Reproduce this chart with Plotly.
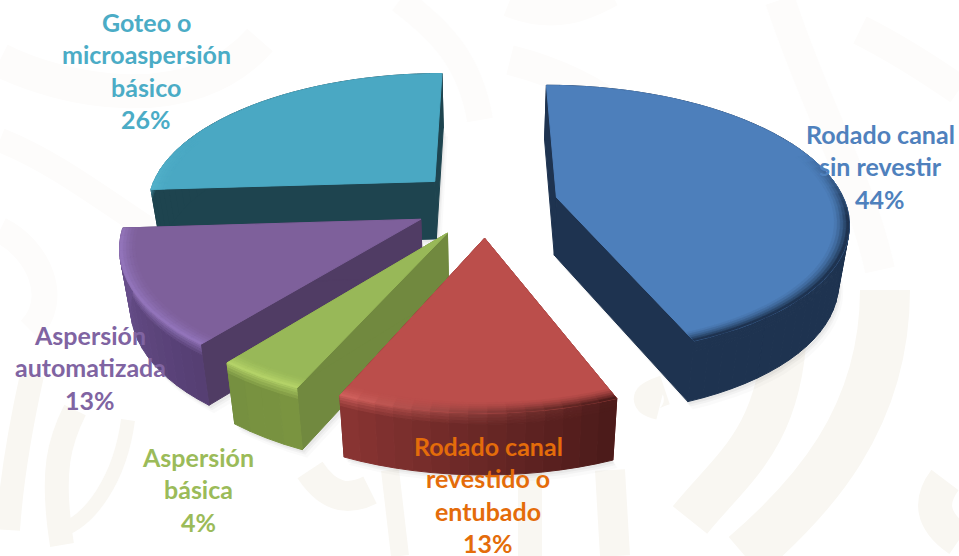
import math
import plotly.graph_objects as go

# ---- data -------------------------------------------------------------
categories = ["Rodado canal sin revestir", "Rodado canal revestido o entubado",
              "Aspersión básica", "Aspersión automatizada", "Goteo o microaspersión básico"]
values = [44.0, 12.6, 4.0, 13.4, 26.0]
label_lines = [["Rodado canal", "sin revestir"], ["Rodado canal", "revestido o", "entubado"],
               ["Aspersión", "básica"], ["Aspersión", "automatizada"],
               ["Goteo o", "microaspersión", "básico"]]

# ---- style ------------------------------------------------------------
top_colors = ["#4d7fbb", "#bb4e4b", "#98b858", "#7e609b", "#4aa8c3"]
cut_colors = ["#1e3350", "#7a2f2d", "#71893f", "#503c64", "#1e444f"]
rim_start = ["#1e3350", "#4a1a19", "#7a9440", "#553e72", "#1e444f"]
rim_end = ["#1e3350", "#8a3533", "#769040", "#6b5290", "#1e444f"]
edge_start = ["#1e3350", "#4a1a19", "#b4d268", "#9274ba", "#55b2cb"]
edge_end = ["#1e3350", "#d4625e", "#b4d268", "#9274ba", "#55b2cb"]
label_colors = ["#4f81bd", "#e46c0a", "#9bbb59", "#8064a2", "#4bacc6"]
label_pos = [(880, 134), (488, 446), (198, 457), (90, 335), (146, 22)]
line_gap = 32.4
label_font = dict(family="Lato", size=25)
draw_order = [4, 0, 3, 2, 1]

X0, Y0, A, B, P, EXPLODE = 486.0, 203.5, 289.0, 132.7, 0.167, 0.25
DEPTH, DEPTH_Q, BASE_SCALE = 58.0, 0.05, 0.97


def rgb(h):
    return [int(h[i:i + 2], 16) for i in (1, 3, 5)]


def mix(a, b, t):
    t = max(0.0, min(1.0, t))
    ca, cb = rgb(a), rgb(b)
    return "#%02x%02x%02x" % tuple(round(u + (v - u) * t) for u, v in zip(ca, cb))


def ground(mid, theta, r):
    return (EXPLODE * math.sin(mid) + r * math.sin(theta),
            EXPLODE * math.cos(mid) + r * math.cos(theta))


def top_pt(mid, theta, r):
    gx, gy = ground(mid, theta, r)
    d = 1 + P * gy
    return X0 + A * gx / d, Y0 - B * gy / d


def base_pt(mid, theta, r, frac=1.0):
    x, y = top_pt(mid, theta, r)
    gy = ground(mid, theta, r)[1]
    s = 1 + (BASE_SCALE - 1) * frac
    return X0 + (x - X0) * s, y + frac * DEPTH / (1 + DEPTH_Q * gy)


def poly(pts, color, width=1.0):
    xs = [p[0] for p in pts] + [pts[0][0]]
    ys = [p[1] for p in pts] + [pts[0][1]]
    fig.add_trace(go.Scatter(
        x=xs, y=ys, mode="lines", fill="toself", fillcolor=color,
        line=dict(color=color, width=width), hoverinfo="skip",
        showlegend=False))


fig = go.Figure()

# faint watermark in the background
wm_dark = "#f9f7f2"
wm_light = "#fdfcfb"
strokes = [
    ("M 8 530 C 12 470 22 420 32 375", 24, wm_dark),
    ("M 62 545 C 50 470 60 440 75 410", 24, wm_dark),
    ("M 62 530 C 90 520 120 480 128 420", 14, wm_dark),
    ("M 310 470 C 330 500 350 500 370 490", 30, wm_dark),
    ("M 390 470 L 400 556", 18, wm_dark),
    ("M 610 470 L 615 556", 30, wm_dark),
    ("M 530 470 L 530 556", 24, wm_dark),
    ("M 690 520 C 730 470 780 440 785 330", 44, wm_dark),
    ("M 885 290 C 885 420 810 500 745 556", 50, wm_dark),
    ("M 945 480 C 930 500 930 520 959 540", 34, wm_dark),
    ("M 660 405 C 640 400 650 395 665 390", 30, wm_dark),
    ("M 0 60 C 60 90 190 120 260 40", 34, wm_light),
    ("M 0 140 C 50 160 90 190 150 230", 24, wm_light),
    ("M 0 230 C 40 250 60 300 30 330", 26, wm_light),
    ("M 510 0 C 560 20 590 0 610 -10", 34, wm_light),
    ("M 510 60 C 590 80 680 130 720 260", 30, wm_light),
    ("M 780 0 C 820 120 860 180 880 270", 30, wm_light),
    ("M 860 30 C 900 50 930 70 959 90", 30, wm_light),
    ("M 400 0 C 440 30 470 60 480 120", 26, wm_light),
]
shapes = [dict(type="path", path=p, line=dict(color=c, width=w), layer="below") for p, w, c in strokes]

# cumulative angles
total = sum(values)
angles = []
acc = 0
for v in values:
    angles.append((2 * math.pi * acc / total, 2 * math.pi * (acc + v) / total))
    acc += v

for i in draw_order:
    a0, a1 = angles[i]
    mid = (a0 + a1) / 2
    n = max(3, int((a1 - a0) / math.radians(3)))
    ths = [a0 + (a1 - a0) * k / n for k in range(n + 1)]

    # soft drop shadow
    outline = [base_pt(mid, a0, 0)] + [base_pt(mid, t, 1) for t in ths]
    for off, alpha in ((8, 0.02), (5, 0.03), (3, 0.04)):
        poly([(x + off * 0.6, y + off) for x, y in outline], "rgba(0,0,0,%s)" % alpha, width=0)

    # cut faces
    for t in (a0, a1):
        poly([top_pt(mid, a0, 0), top_pt(mid, t, 1), base_pt(mid, t, 1), base_pt(mid, a0, 0)], cut_colors[i])

    # outer wall
    for k in range(n):
        t0, t1 = ths[k], ths[k + 1]
        tm = (k + 0.5) / n
        wall = mix(rim_start[i], rim_end[i], tm)
        edge = mix(edge_start[i], edge_end[i], tm)
        w = max(0.0, min(1.0, (0.35 - math.cos((t0 + t1) / 2)) / 0.5))
        stops = [0, 0.04, 0.08, 0.13, 0.18, 1]
        for s in range(5):
            c = mix(mix(wall, edge, 0.8 * w), wall, s / 4)
            poly([base_pt(mid, t0, 1, stops[s]), base_pt(mid, t1, 1, stops[s]),
                  base_pt(mid, t1, 1, stops[s + 1]), base_pt(mid, t0, 1, stops[s + 1])], c)

    # top face
    poly([top_pt(mid, a0, 0)] + [top_pt(mid, t, 1) for t in ths], top_colors[i])

    # bevel along the rim
    radii = [0.95 + 0.01 * s for s in range(6)]
    for k in range(n):
        t0, t1 = ths[k], ths[k + 1]
        tm = (k + 0.5) / n
        edge = mix(edge_start[i], edge_end[i], tm)
        w = max(0.0, min(1.0, (0.35 - math.cos((t0 + t1) / 2)) / 0.5))
        if w <= 0:
            continue
        for s in range(5):
            c = mix(top_colors[i], edge, w * ((s + 1) / 5) ** 1.5)
            poly([top_pt(mid, t0, radii[s]), top_pt(mid, t1, radii[s]),
                  top_pt(mid, t1, radii[s + 1]), top_pt(mid, t0, radii[s + 1])], c, width=0.6)

# labels, one annotation per line
annotations = []
for i, v in enumerate(values):
    lx, ly = label_pos[i]
    lines = label_lines[i] + ["%d%%" % round(v)]
    for j, txt in enumerate(lines):
        annotations.append(dict(
            x=lx, y=ly + j * line_gap, xref="x", yref="y", text="<b>%s</b>" % txt, showarrow=False,
            xanchor="center", yanchor="middle",
            font=dict(color=label_colors[i], **label_font)))

fig.update_layout(
    width=959, height=556, margin=dict(l=0, r=0, t=0, b=0), autosize=False,
    paper_bgcolor="#ffffff", plot_bgcolor="#ffffff", showlegend=False,
    xaxis=dict(range=[0, 959], visible=False, fixedrange=True, domain=[0, 1]),
    yaxis=dict(range=[556, 0], visible=False, fixedrange=True, domain=[0, 1]),
    shapes=shapes, annotations=annotations)

fig.write_html("out.html", config=dict(displayModeBar=False),
               post_script="document.body.style.margin='0';document.documentElement.style.overflow='hidden';")
